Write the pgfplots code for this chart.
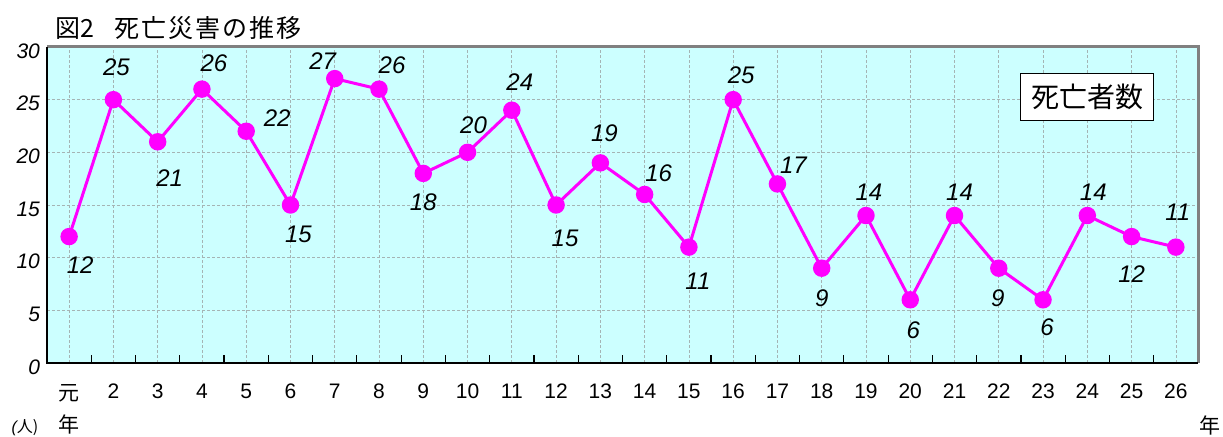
\documentclass[border=0pt]{standalone}
\usepackage{fontspec}
\setmainfont{Liberation Sans}
\newfontfamily\jp{Noto Sans CJK JP}
\usepackage{pgfplots}
\pgfplotsset{compat=1.18}
\usepackage{pgfplotstable}
\definecolor{cyanbg}{RGB}{204,255,255}
\definecolor{mag}{RGB}{255,0,255}
\definecolor{gridc}{RGB}{165,180,180}

\pgfplotstableread{
x y dx dy
1 12 11 -29
2 25 3 32
3 21 12 -36
4 26 12 26
5 22 31 13
6 15 8 -29
7 27 -12 17
8 26 13 24
9 18 0 -29
10 20 6 27
11 24 8 28
12 15 9 -33
13 19 4 30
14 16 14 21
15 11 9 -34
16 25 8 24
17 17 16 19
18 9 0 -30
19 14 3 23
20 6 3 -30
21 14 5 23
22 9 -1 -30
23 6 4 -27
24 14 6 23
25 12 0 -38
26 11 2 35
}\data

\begin{document}
\begin{tikzpicture}
\useasboundingbox (-23.5pt,-37pt) rectangle (588pt,181.5pt);
\begin{axis}[
  scale only axis, width=575.5pt, height=158pt,
  xmin=0.5, xmax=26.5, ymin=0, ymax=30,
  xtick={1,...,26},
  xticklabels={{{\jp 元}\\{\jp 年}},2,3,4,5,6,7,8,9,10,11,12,13,14,15,16,17,18,19,20,21,22,23,24,25,26},
  xticklabel style={align=center, font=\fontsize{10.5}{16}\selectfont, yshift=-7pt},
  ytick={0,5,...,30},
  yticklabel style={font=\itshape\fontsize{10.5}{11}\selectfont, yshift=-2pt},
  /pgf/number format/assume math mode=true,
  major tick length=0pt,
  minor xtick={1.5,2.5,...,25.5},
  minor tick length=4pt,
  tick align=inside,
  xtick pos=bottom, ytick pos=left,
  minor tick style={black, line width=0.6pt},
  grid=major,
  grid style={gridc, dash pattern=on 1.5pt off 1pt, line width=0.35pt},
  axis background/.style={fill=cyanbg},
  axis line style={draw=none},
  clip=false,
]
\draw[gray, line width=1.5pt] (rel axis cs:0,1) -- (rel axis cs:1,1) -- (rel axis cs:1,0);
\draw[black, line width=1pt] (rel axis cs:0,1) -- (rel axis cs:0,0) -- (rel axis cs:1,0);
\addplot[mag, line width=1.5pt, mark=*, mark size=3.6pt,
  mark options={fill=mag, draw=mag},
  nodes near coords={\pgfmathprintnumber[assume math mode=true]{\pgfplotspointmeta}},
  point meta=explicit,
  visualization depends on={\thisrow{dx} \as \dx},
  visualization depends on={\thisrow{dy} \as \dy},
  nodes near coords style={anchor=center, black, xshift={0.5pt*\dx}, yshift={0.5pt*\dy}, font=\itshape\fontsize{12}{12}\selectfont},
] table[x=x, y=y, meta=y] {\data};
\end{axis}
\node[anchor=west, inner sep=0pt, font=\jp\fontsize{12.5}{12.5}\selectfont] at (4pt,167.5pt) {図2\hspace{0.8em}死\hspace{0.08em}亡\hspace{0.08em}災\hspace{0.08em}害\hspace{0.08em}の\hspace{0.08em}推\hspace{0.08em}移};
\node[draw=black, fill=white, line width=0.5pt, minimum width=66.5pt, minimum height=23.5pt, inner sep=0pt, font=\jp\fontsize{14}{14}\selectfont] at (520pt,133pt) {死亡者数};
\node[font=\itshape\fontsize{8}{8}\selectfont] at (-11pt,-32.5pt) {(\jp 人)};
\node[font=\jp\fontsize{10.5}{10.5}\selectfont] at (581.5pt,-31pt) {年};
\end{tikzpicture}
\end{document}
